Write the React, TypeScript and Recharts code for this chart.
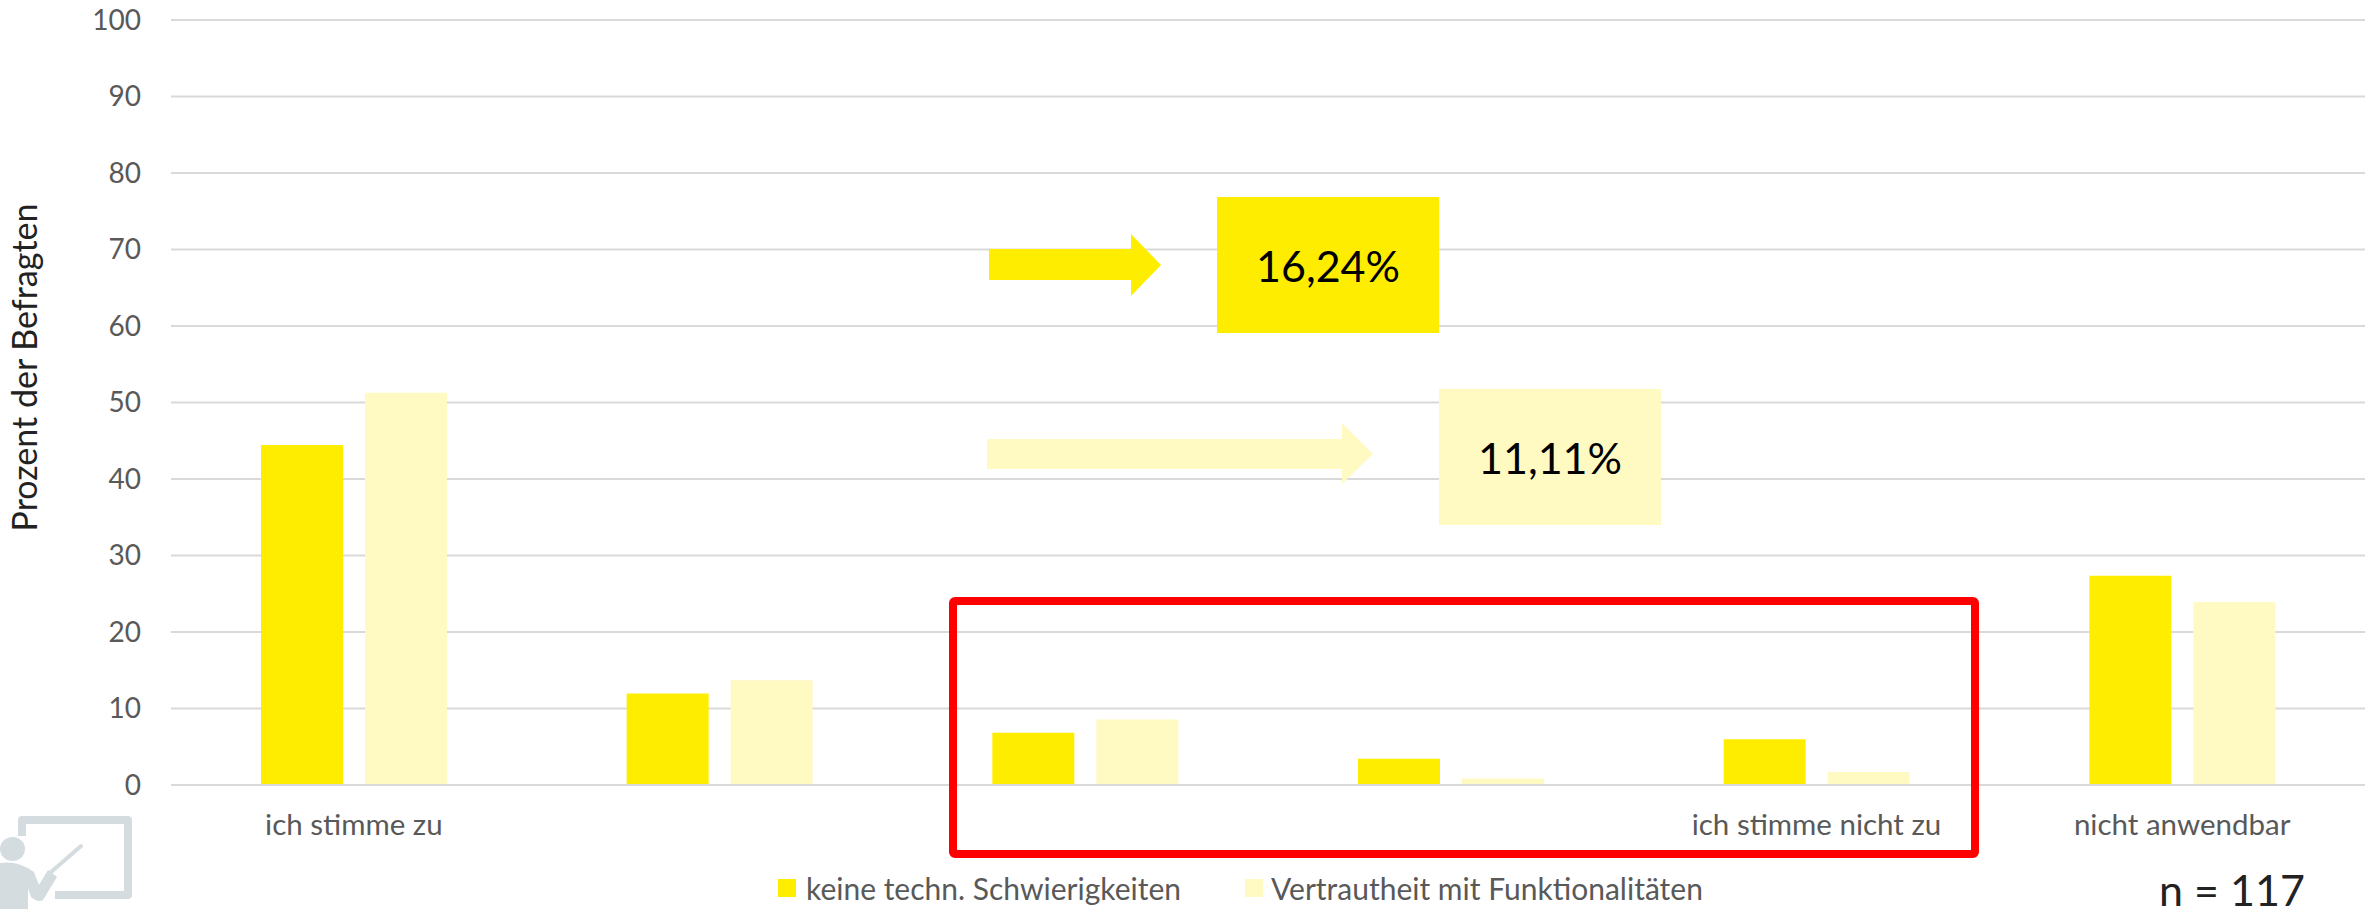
import { BarChart, Bar, XAxis, YAxis, CartesianGrid, Legend } from 'recharts';

const categories = ['ich stimme zu', '', '', '', 'ich stimme nicht zu', 'nicht anwendbar'];
const keineSchwierigkeiten = [44.44, 11.97, 6.84, 3.42, 5.98, 27.35];
const vertrautheit = [51.28, 13.68, 8.55, 0.85, 1.71, 23.93];
const yTicks = [0, 10, 20, 30, 40, 50, 60, 70, 80, 90, 100];

const YELLOW = '#FFED00';
const PALE = '#FFF9C2';
const FONT = 'Lato, sans-serif';
const GREY = '#595959';

const data = categories.map((name, i) => ({
  name,
  keine: keineSchwierigkeiten[i],
  vertraut: vertrautheit[i],
}));

function ChartLegend() {
  const items = [
    { label: 'keine techn. Schwierigkeiten', color: YELLOW, square: 778, text: 806 },
    { label: 'Vertrautheit mit Funktionalitäten', color: PALE, square: 1245, text: 1271 },
  ];
  return (
    <div style={{ position: 'relative', height: 38 }}>
      {items.map((item) => (
        <div key={item.label}>
          <div style={{ position: 'absolute', left: item.square, top: 9, width: 18, height: 18, background: item.color }} />
          <div style={{ position: 'absolute', left: item.text, top: 0, fontFamily: FONT, fontSize: 30, lineHeight: '36px', color: GREY, whiteSpace: 'nowrap' }}>
            {item.label}
          </div>
        </div>
      ))}
    </div>
  );
}

// callouts drawn on top of the chart
function Annotations() {
  return (
    <svg width={2374} height={909} style={{ position: 'absolute', left: 0, top: 0, pointerEvents: 'none' }}>
      <polygon points="989,249 1131,249 1131,234 1161,265 1131,296 1131,280 989,280" fill={YELLOW} />
      <polygon points="987,439 1342,439 1342,423 1373,454 1342,484 1342,469 987,469" fill={PALE} />
      <rect x={1217} y={197} width={222} height={136} fill={YELLOW} />
      <rect x={1439} y={389} width={222} height={136} fill={PALE} />
      <text x={1328} y={282} textAnchor="middle" fontFamily={FONT} fontSize={43} fill="#000">16,24%</text>
      <text x={1550} y={474} textAnchor="middle" fontFamily={FONT} fontSize={43} fill="#000">11,11%</text>
      <rect x={953} y={601} width={1022} height={253} rx={2} fill="none" stroke="#FF0000" strokeWidth={8} />
      <text x={2232} y={906} textAnchor="middle" fontFamily={FONT} fontSize={43} fill="#222">n = 117</text>
      <polyline points="22,836 22,820 128,820 128,895 55,895" fill="none" stroke="#D5DCE0" strokeWidth={8} strokeLinejoin="round" />
      <ellipse cx={12.5} cy={849} rx={12.5} ry={12} fill="#D5DCE0" />
      <path d="M0 863 Q18 860 34 872 L39 885 L48 870 L57 877 L43 900 Q38 903 31 897 L28 888 L28 909 L0 909 Z" fill="#D5DCE0" />
      <line x1={50} y1={873} x2={81} y2={846} stroke="#D5DCE0" strokeWidth={4} strokeLinecap="round" />
    </svg>
  );
}

export default function App() {
  return (
    <div style={{ position: 'absolute', left: 0, top: 0, width: 2374, height: 909, background: '#fff' }}>
      <BarChart
        width={2374}
        height={909}
        data={data}
        margin={{ top: 20, right: 9, bottom: 0, left: 0 }}
        barSize={82}
        barGap={22}
      >
        <CartesianGrid vertical={false} stroke="#D9D9D9" strokeWidth={2} />
        <XAxis
          dataKey="name"
          height={124}
          interval={0}
          axisLine={{ stroke: '#D9D9D9', strokeWidth: 2 }}
          tickLine={false}
          tickSize={0}
          tickMargin={29}
          tick={{ fill: GREY, fontFamily: FONT, fontSize: 29.5 }}
        />
        <YAxis
          width={171}
          domain={[0, 100]}
          ticks={yTicks}
          interval={0}
          axisLine={false}
          tickLine={false}
          tickSize={0}
          tickMargin={30}
          tick={{ fill: GREY, fontFamily: FONT, fontSize: 28 }}
          label={{
            value: 'Prozent der Befragten',
            angle: -90,
            position: 'insideLeft',
            dx: 20,
            dy: -35,
            style: { fill: '#222', fontFamily: FONT, fontSize: 34, textAnchor: 'middle' },
          }}
        />
        <Legend
          layout="horizontal"
          align="center"
          verticalAlign="middle"
          wrapperStyle={{ left: 0, top: 870, width: 2374, height: 38 }}
          content={() => <ChartLegend />}
        />
        <Bar dataKey="keine" name="keine techn. Schwierigkeiten" fill={YELLOW} isAnimationActive={false} />
        <Bar dataKey="vertraut" name="Vertrautheit mit Funktionalitäten" fill={PALE} isAnimationActive={false} />
      </BarChart>
      <Annotations />
    </div>
  );
}
